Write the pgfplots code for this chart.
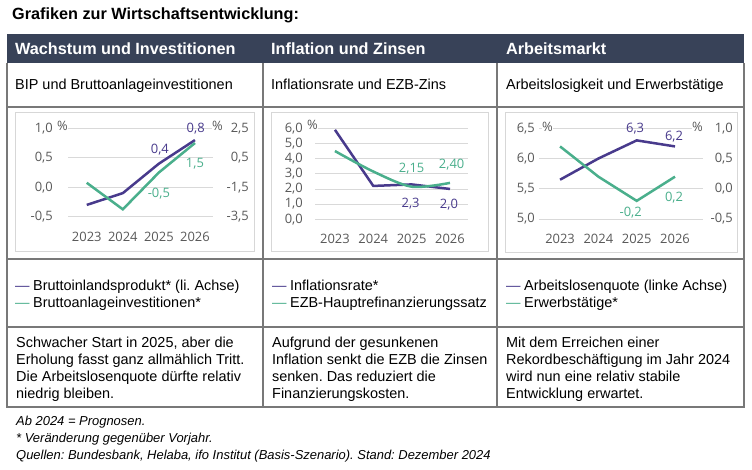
\documentclass[border=0pt]{standalone}
\usepackage{fontspec}
\setmainfont{Liberation Sans}
\newfontfamily\chartfont{Open Sans}
\usepackage{pgfplots}
\pgfplotsset{compat=1.18}
\frenchspacing
\definecolor{hdr}{RGB}{56,66,88}
\definecolor{lila}{RGB}{72,58,140}
\definecolor{gruen}{RGB}{74,175,140}
\definecolor{gridc}{RGB}{217,217,217}
\definecolor{tickc}{RGB}{89,89,89}
\definecolor{rulec}{RGB}{120,120,120}
\definecolor{framec}{RGB}{215,215,215}
\newcommand\cf{\chartfont\fontsize{13}{15}\selectfont}
\newcommand\bodyf{\fontsize{14.5}{17}\selectfont}
\pgfplotsset{
  panel/.style={scale only axis, clip=false, axis line style={draw=none}, major tick length=0pt,
    ymajorgrids, grid style={gridc, line width=0.9bp},
    xtick={0,1,2,3}, xticklabels={2023,2024,2025,2026},
    ticklabel style={font=\cf, text=tickc, inner sep=0pt},
    xticklabel style={anchor=north, yshift=-15bp}},
  rpanel/.style={scale only axis, clip=false, axis line style={draw=none}, major tick length=0pt,
    xtick=\empty, yticklabel pos=right,
    ticklabel style={font=\cf, text=tickc, inner sep=0pt}},
  ser/.style={line width=2.5bp, no markers},
}
\tikzset{lab/.style={font=\cf, inner sep=0pt, anchor=center},
  pct/.style={font=\cf, text=tickc, inner sep=0pt, anchor=west, fill=white},
  bt/.style={anchor=base west, inner sep=0pt, font=\bodyf},
  fn/.style={anchor=base west, inner sep=0pt, font=\itshape\fontsize{13}{15}\selectfont}}
\begin{document}
\begin{tikzpicture}
\useasboundingbox (0bp,0bp) rectangle (752bp,470bp);
\fill[white] (0bp,0bp) rectangle (752bp,470bp);
\begin{scope}[x=1bp,y=-1bp,yshift=470bp]
% title
\node[anchor=base west, inner sep=0pt, font=\bfseries\fontsize{16.3}{19}\selectfont] at (12,20) {Grafiken zur Wirtschaftsentwicklung:};
% header
\fill[hdr] (7,34) rectangle (744,63);
\foreach \x/\t in {15/Wachstum und Investitionen, 271/Inflation und Zinsen, 506/Arbeitsmarkt}
  \node[anchor=base west, inner sep=0pt, text=white, font=\bfseries\fontsize{16.3}{19}\selectfont] at (\x,55) {\t};
% table lines
\draw[rulec, line width=1.1bp] (7,63) -- (7,407) -- (744,407) -- (744,63);
\draw[rulec, line width=1.1bp] (7,107) -- (744,107) (7,259) -- (744,259) (7,327) -- (744,327);
\draw[rulec, line width=1.1bp] (263,63) -- (263,407) (497,63) -- (497,407);
% subtitles
\node[bt] at (15,90) {BIP und Bruttoanlageinvestitionen};
\node[bt] at (271,90) {Inflationsrate und EZB-Zins};
\node[bt] at (506,90) {Arbeitslosigkeit und Erwerbstätige};
% frames
\draw[framec, line width=1bp] (15,113) rectangle (254,252);
\draw[framec, line width=1bp] (271,113) rectangle (488,252);
\draw[framec, line width=1bp] (505,113) rectangle (737,253);
% legends
\node[bt] at (15,291) {\textcolor{lila}{—}\hspace{3.5bp}Bruttoinlandsprodukt* (li. Achse)};
\node[bt] at (15,308) {\textcolor{gruen}{—}\hspace{3.5bp}Bruttoanlageinvestitionen*};
\node[bt] at (272,291) {\textcolor{lila}{—}\hspace{3.5bp}Inflationsrate*};
\node[bt] at (272,308) {\textcolor{gruen}{—}\hspace{3.5bp}EZB-Hauptrefinanzierungssatz};
\node[bt] at (506,291) {\textcolor{lila}{—}\hspace{3.5bp}Arbeitslosenquote (linke Achse)};
\node[bt] at (506,308) {\textcolor{gruen}{—}\hspace{3.5bp}Erwerbstätige*};
% text rows
\node[bt] at (16,348) {Schwacher Start in 2025, aber die};
\node[bt] at (16,365) {Erholung fasst ganz allmählich Tritt.};
\node[bt] at (16,382) {Die Arbeitslosenquote dürfte relativ};
\node[bt] at (16,398.5) {niedrig bleiben.};
\node[bt] at (272,348) {Aufgrund der gesunkenen};
\node[bt] at (272,365) {Inflation senkt die EZB die Zinsen};
\node[bt] at (272,382) {senken. Das reduziert die};
\node[bt] at (272,398.5) {Finanzierungskosten.};
\node[bt] at (506,348) {Mit dem Erreichen einer};
\node[bt] at (506,365) {Rekordbeschäftigung im Jahr 2024};
\node[bt] at (506,382) {wird nun eine relativ stabile};
\node[bt] at (506,398.5) {Entwicklung erwartet.};
% footnotes
\node[fn] at (16,426) {Ab 2024 = Prognosen.};
\node[fn] at (16,443) {* Veränderung gegenüber Vorjahr.};
\node[fn] at (16,460) {Quellen: Bundesbank, Helaba, ifo Institut (Basis-Szenario). Stand: Dezember 2024};
\end{scope}

% ---- Panel 1 ----
\begin{axis}[panel, at={(68bp,253.3bp)}, anchor=south west, width=145bp, height=88.4bp,
  xmin=-0.52, xmax=3.5, ymin=-0.5, ymax=1.0, ytick={-0.5,0,0.5,1},
  yticklabels={{-0,5},{0,0},{0,5},{1,0}}, yticklabel style={xshift=-15bp}]
\addplot[ser, lila] coordinates {(0,-0.3) (1,-0.1) (2,0.4) (3,0.8)};
\node[lab, text=lila] at (axis cs:3,0.8) [xshift=0.7bp, yshift=11.8bp] {0,8};
\node[lab, text=lila] at (axis cs:2,0.4) [xshift=1bp, yshift=13.7bp] {0,4};
\node[pct] at (rel axis cs:0,1) [xshift=-11bp, yshift=2bp] {\%};
\end{axis}
\begin{axis}[rpanel, at={(68bp,253.3bp)}, anchor=south west, width=145bp, height=88.4bp,
  xmin=-0.52, xmax=3.5, ymin=-3.5, ymax=2.5, ytick={-3.5,-1.5,0.5,2.5},
  yticklabels={{-3,5},{-1,5},{0,5},{2,5}}, yticklabel style={anchor=east, xshift=36bp}]
\addplot[ser, gruen] coordinates {(0,-1.2) (1,-3.0) (2,-0.5) (3,1.5)};
\node[lab, text=gruen] at (axis cs:3,1.5) [yshift=-21bp] {1,5};
\node[lab, text=gruen] at (axis cs:2,-0.5) [yshift=-21bp] {-0,5};
\node[pct] at (rel axis cs:1,1) [xshift=-1bp, yshift=2bp] {\%};
\end{axis}

% ---- Panel 2 ----
\begin{axis}[panel, at={(315bp,250.7bp)}, anchor=south west, width=153bp, height=91bp,
  xmin=-0.52, xmax=3.47, ymin=0, ymax=6, ytick={0,1,2,3,4,5,6},
  yticklabels={{0,0},{1,0},{2,0},{3,0},{4,0},{5,0},{6,0}}, yticklabel style={xshift=-12bp}]
\addplot[ser, lila] coordinates {(0,5.9) (1,2.2) (2,2.3) (3,2.0)};
\addplot[ser, gruen, smooth, tension=0.5] coordinates {(0,4.5) (1,3.15) (2,2.15) (3,2.40)};
\node[lab, text=gruen] at (axis cs:2,2.15) [yshift=18.4bp] {2,15};
\node[lab, text=gruen] at (axis cs:3,2.40) [xshift=1.7bp, yshift=18bp] {2,40};
\node[lab, text=lila] at (axis cs:2,2.3) [xshift=-1bp, yshift=-19bp] {2,3};
\node[lab, text=lila] at (axis cs:3,2.0) [xshift=-1bp, yshift=-16bp] {2,0};
\node[pct] at (rel axis cs:0,1) [xshift=-8bp, yshift=3bp] {\%};
\end{axis}

% ---- Panel 3 ----
\begin{axis}[panel, at={(539bp,251bp)}, anchor=south west, width=164bp, height=90.7bp,
  xmin=-0.55, xmax=3.73, ymin=5.0, ymax=6.5, ytick={5,5.5,6,6.5},
  yticklabels={{5,0},{5,5},{6,0},{6,5}}, yticklabel style={xshift=-4bp}]
\addplot[ser, lila] coordinates {(0,5.65) (1,6.0) (2,6.3) (3,6.2)};
\node[lab, text=lila] at (axis cs:2,6.3) [xshift=-1.6bp, yshift=11.4bp] {6,3};
\node[lab, text=lila] at (axis cs:3,6.2) [xshift=-1bp, yshift=9.3bp] {6,2};
\node[pct] at (rel axis cs:0,1) [xshift=3bp, yshift=1bp] {\%};
\end{axis}
\begin{axis}[rpanel, at={(539bp,251bp)}, anchor=south west, width=164bp, height=90.7bp,
  xmin=-0.55, xmax=3.73, ymin=-0.5, ymax=1.0, ytick={-0.5,0,0.5,1},
  yticklabels={{-0,5},{0,0},{0,5},{1,0}}, yticklabel style={anchor=east, xshift=30bp}]
\addplot[ser, gruen] coordinates {(0,0.7) (1,0.2) (2,-0.2) (3,0.2)};
\node[lab, text=gruen] at (axis cs:2,-0.2) [xshift=-6bp, yshift=-11.8bp] {-0,2};
\node[lab, text=gruen] at (axis cs:3,0.2) [xshift=-1bp, yshift=-20.6bp] {0,2};
\node[pct] at (rel axis cs:1,1) [xshift=-11bp, yshift=1bp] {\%};
\end{axis}
\end{tikzpicture}
\end{document}
